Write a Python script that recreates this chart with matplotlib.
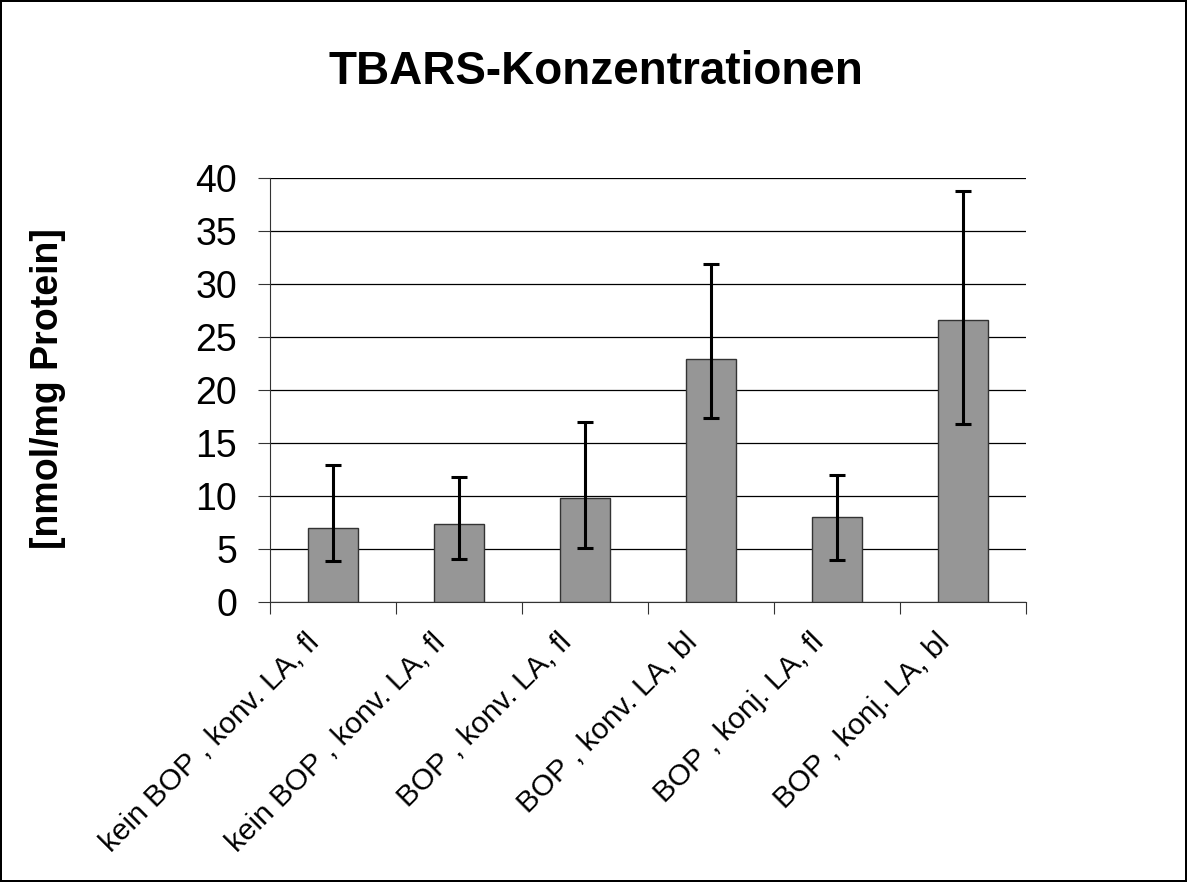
import matplotlib
matplotlib.use("Agg")
import matplotlib.pyplot as plt
import matplotlib.transforms as mtransforms
import numpy as np

plt.rcParams['font.family'] = ['Liberation Sans', 'DejaVu Sans']

# --- data ---
groups = ["kein BOP , konv. LA, fl", "kein BOP , konv. LA, fl", "BOP , konv. LA, fl",
          "BOP , konv. LA, bl", "BOP , konj. LA, fl", "BOP , konj. LA, bl"]
means = [7.0, 7.4, 9.8, 22.9, 8.0, 26.6]
err_low = [3.9, 4.1, 5.1, 17.4, 4.0, 16.8]   # lower end of error bar
err_high = [12.9, 11.8, 17.0, 31.9, 12.0, 38.8]  # upper end of error bar

fig = plt.figure(figsize=(11.87, 8.82), dpi=100)
fig.patch.set_edgecolor('black')
fig.patch.set_linewidth(1.5)
ax = fig.add_axes([0.2275, 0.3175, 0.6368, 0.4807])

x = np.arange(len(groups))
yerr = [np.array(means) - np.array(err_low), np.array(err_high) - np.array(means)]
ax.bar(x, means, width=0.4, color='#969696', edgecolor='#333333', linewidth=1, zorder=3)
ax.errorbar(x, means, yerr=yerr, fmt='none', ecolor='black', elinewidth=2.2,
            capsize=5.8, capthick=2.2, zorder=4)

ax.set_ylim(0, 40)
ax.set_xlim(-0.5, len(groups) - 0.5)
ax.set_yticks(np.arange(0, 41, 5))
ax.yaxis.grid(True, color='black', linewidth=0.9, zorder=0)
ax.tick_params(axis='y', labelsize=27, length=8.6, color='#333333', pad=15)

# category boundaries as major ticks, labels at the bar centres
ax.set_xticks(np.arange(-0.5, len(groups), 1.0))
ax.set_xticklabels([])
ax.set_xticks(x, minor=True)
ax.set_xticklabels(groups, minor=True, rotation=45, ha='right', va='top', fontsize=21.5)
ax.tick_params(axis='x', which='major', length=8.6, color='#333333')
ax.tick_params(axis='x', which='minor', length=0, pad=19)
shift = mtransforms.ScaledTranslation(-0.08, 0, fig.dpi_scale_trans)
for lbl in ax.get_xticklabels(minor=True):
    lbl.set_transform(lbl.get_transform() + shift)

for s in ['top', 'right']:
    ax.spines[s].set_visible(False)
for s in ['left', 'bottom']:
    ax.spines[s].set_color('#333333')

fig.text(48 / 1187, 1 - 389 / 882, "[nmol/mg Protein]", fontsize=27, fontweight='bold',
         rotation=90, ha='center', va='center')
fig.text(0.502, 0.918, "TBARS-Konzentrationen", fontsize=33, fontweight='bold',
         ha='center', va='center')

fig.savefig("out.png", dpi=100, edgecolor=fig.get_edgecolor())
